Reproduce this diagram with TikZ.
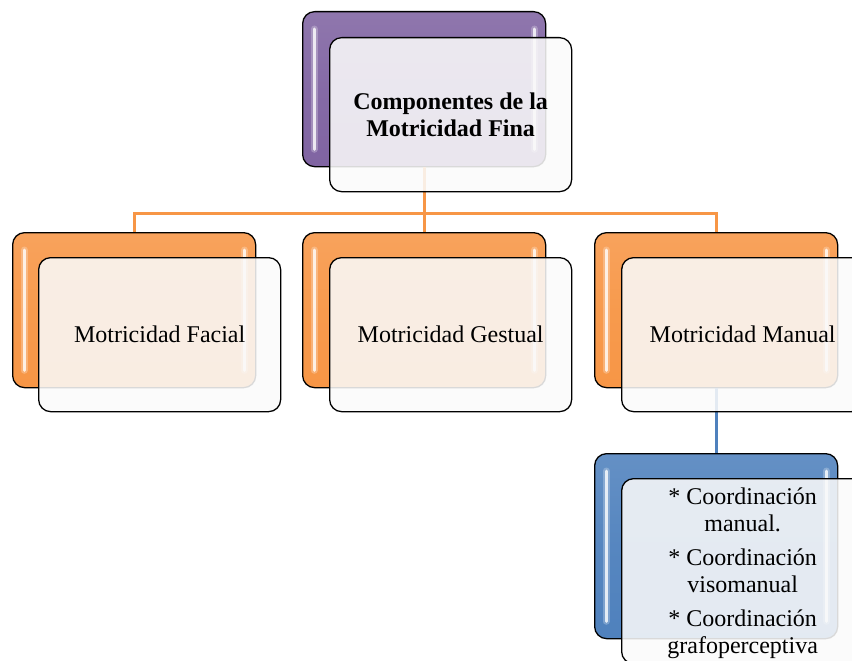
\documentclass[tikz,border=0pt]{standalone}
\usepackage{fontspec}
\setmainfont{Liberation Serif}
\definecolor{cpurple}{HTML}{8064A2}
\definecolor{corange}{HTML}{F79646}
\definecolor{cblue}{HTML}{4F81BD}
\begin{document}
\begin{tikzpicture}[x=1pt,y=-1pt,
  backbox/.style={draw=black, line width=1.3pt, rounded corners=12pt,
    minimum width=243pt, minimum height=155pt, inner sep=0pt, anchor=north west,
    top color=#1!88!white, bottom color=#1, middle color=#1!96!white},
  frontbox/.style={draw=black, line width=1.3pt, rounded corners=12pt,
    fill=black!2, fill opacity=0.87, text opacity=1,
    minimum width=242pt, minimum height=154pt, inner sep=0pt, anchor=north west,
    font=\fontsize{24}{27}\selectfont, align=center},
  gloss/.style={white, line width=3pt, line cap=round, opacity=0.8},
  glow/.style={white, line width=7pt, line cap=round, opacity=0.25},
  conn/.style={line width=2.8pt}]
\useasboundingbox (0,0) rectangle (852,661);
% back boxes
\node[backbox=cpurple] (topB) at (302,11) {};
\node[backbox=corange] (facB) at (12,232) {};
\node[backbox=corange] (gesB) at (302,232) {};
\node[backbox=corange] (manB) at (594,232) {};
\node[backbox=cblue, minimum height=185pt] (coB) at (594,453) {};
% gloss stripes
\foreach \b in {topB,facB,gesB,manB,coB}{
  \draw[glow] ([xshift=12pt,yshift=-18pt]\b.north west) -- ([xshift=12pt,yshift=18pt]\b.south west);
  \draw[gloss] ([xshift=12pt,yshift=-18pt]\b.north west) -- ([xshift=12pt,yshift=18pt]\b.south west);
  \draw[glow] ([xshift=-12pt,yshift=-18pt]\b.north east) -- ([xshift=-12pt,yshift=18pt]\b.south east);
  \draw[gloss] ([xshift=-12pt,yshift=-18pt]\b.north east) -- ([xshift=-12pt,yshift=18pt]\b.south east);
}
% connectors
\draw[conn, corange] (topB.south) -- ++(0,46) coordinate (hub);
\draw[conn, corange] (hub) -| (facB.north);
\draw[conn, corange] (hub) -- (gesB.north);
\draw[conn, corange] (hub) -| (manB.north);
\draw[conn, cblue] (manB.south) -- (coB.north);
% front boxes
\node[frontbox] (topF) at (329,37) {\bfseries Componentes de la\\\bfseries Motricidad Fina};
\node[frontbox] (facF) at (38,257) {Motricidad Facial};
\node[frontbox] (gesF) at (329,257) {Motricidad Gestual};
\node[frontbox] (manF) at (621,257) {Motricidad Manual};
\node[frontbox, minimum height=185pt, text depth=0pt] (coF) at (621,478) {\raisebox{-4pt}{}* Coordinación\\manual.\\[7pt]* Coordinación\\visomanual\\[7pt]* Coordinación\\grafoperceptiva};
\end{tikzpicture}
\end{document}
